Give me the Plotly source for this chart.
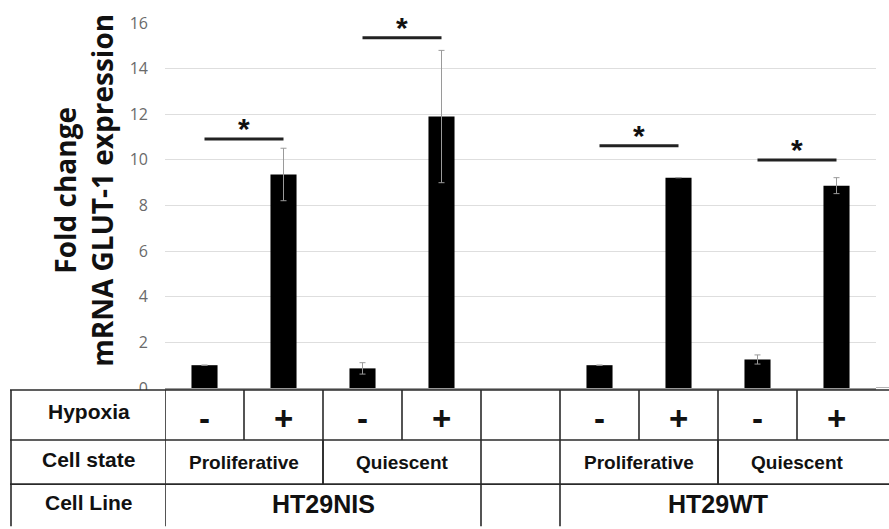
import plotly.graph_objects as go

# ---- data ----
categories = ["NIS-P-", "NIS-P+", "NIS-Q-", "NIS-Q+", "gap", "WT-P-", "WT-P+", "WT-Q-", "WT-Q+"]
values = [1.0, 9.36, 0.86, 11.9, None, 1.0, 9.22, 1.25, 8.87]
errors = [0.0, 1.15, 0.25, 2.9, None, 0.0, 0.0, 0.2, 0.35]
hypoxia = ["-", "+", "-", "+", "", "-", "+", "-", "+"]
cell_state = [("Proliferative", 0, 1), ("Quiescent", 2, 3), ("Proliferative", 5, 6), ("Quiescent", 7, 8)]
cell_line = [("HT29NIS", 0, 3), ("HT29WT", 5, 8)]
sig_pairs = [(0, 1), (2, 3), (5, 6), (7, 8)]
sig_y = [10.92, 15.35, 10.62, 10.0]
row_labels = ["Hypoxia", "Cell state", "Cell Line"]
yticks = [0, 2, 4, 6, 8, 10, 12, 14, 16]

W, H = 889, 529
L, R, T, B = 165, 13, 16, 141
pw, ph = W - L - R, H - T - B

def px_x(p):  # pixel -> paper x
    return (p - L) / pw

def px_y(p):  # pixel -> paper y
    return (H - B - p) / ph

xs = list(range(len(categories)))
last = len(categories) - 1

fig = go.Figure()
fig.add_trace(go.Bar(
    x=xs, y=values, width=0.33,
    marker=dict(color="black", line=dict(width=0)),
    error_y=dict(type="data", array=errors, visible=True, color="#9a9a9a", thickness=1, width=3),
    showlegend=False,
))

shapes = []
annotations = []

# significance bars and stars
for (a, b), yv in zip(sig_pairs, sig_y):
    shapes.append(dict(type="line", xref="x", yref="y", x0=a, x1=b, y0=yv, y1=yv,
                       line=dict(color="#222", width=3)))
    annotations.append(dict(x=(a + b) / 2, y=yv, xref="x", yref="y", text="<b>*</b>",
                            showarrow=False, xanchor="center", yanchor="bottom", yshift=-8,
                            font=dict(family="Liberation Sans", size=30, color="#111")))

# x-axis line extension to the right edge
shapes.append(dict(type="line", xref="paper", yref="y", x0=1, x1=px_x(889), y0=0, y1=0,
                   line=dict(color="#9a9a9a", width=1.5)))

# table geometry (pixels)
t_top, r1, r2, t_bot = 390, 441, 486, 529
left_px, right_px = 10, 889
xl, xr = px_x(left_px), px_x(right_px)

shapes.append(dict(type="rect", xref="paper", yref="paper", x0=xl, x1=xr,
                   y0=px_y(t_bot), y1=px_y(t_top), fillcolor="white", line=dict(width=0), layer="above"))

lc = dict(color="#2a2a2a", width=1.6)
for yy in [t_top, r1, r2]:
    shapes.append(dict(type="line", xref="paper", yref="paper", x0=xl, x1=xr,
                       y0=px_y(yy), y1=px_y(yy), line=lc, layer="above"))
shapes.append(dict(type="line", xref="paper", yref="paper", x0=px_x(left_px + 1), x1=px_x(left_px + 1),
                   y0=px_y(t_top), y1=px_y(t_bot), line=lc, layer="above"))

def vline(xi, ya, yb):
    if xi > last:
        return
    shapes.append(dict(type="line", xref="x", yref="paper", x0=xi, x1=xi,
                       y0=px_y(ya), y1=px_y(yb), line=lc, layer="above"))

for i in range(len(categories)):
    vline(i - 0.5, t_top, r1)
for (_, a, b) in cell_state:
    vline(a - 0.5, r1, r2)
    vline(b + 0.5, r1, r2)
for (_, a, b) in cell_line:
    vline(a - 0.5, r2, t_bot)
    vline(b + 0.5, r2, t_bot)

fontT = "Liberation Sans"

def txt(x, xref, ypx, text, size):
    annotations.append(dict(x=x, y=px_y(ypx), xref=xref, yref="paper", text=f"<b>{text}</b>",
                            showarrow=False, xanchor="center", yanchor="middle",
                            font=dict(family=fontT, size=size, color="#111")))

for lab, ypx in zip(row_labels, [412, 461, 505]):
    txt(px_x((left_px + L) / 2 + 1), "paper", ypx, lab, 21)
for i, s in enumerate(hypoxia):
    if s:
        txt(i, "x", 419, s, 33)
for lab, a, b in cell_state:
    txt((a + b) / 2, "x", 464, lab, 19)
for lab, a, b in cell_line:
    txt((a + b) / 2, "x", 506, lab, 25)

# y title
annotations.append(dict(x=px_x(83), y=px_y(187), xref="paper", yref="paper",
                        text="<b>Fold change<br>mRNA GLUT-1 expression</b>", textangle=-90,
                        showarrow=False, xanchor="center", yanchor="middle",
                        font=dict(family="Open Sans", size=28, color="#111")))

fig.update_layout(
    width=W, height=H,
    margin=dict(l=L, r=R, t=T, b=B),
    plot_bgcolor="white", paper_bgcolor="white",
    shapes=shapes, annotations=annotations,
    xaxis=dict(range=[-0.5, len(categories) - 0.5], tickmode="array",
               tickvals=[i - 0.5 for i in range(len(categories))], showticklabels=False,
               ticks="outside", ticklen=5, tickcolor="#9a9a9a", showline=True,
               linecolor="#9a9a9a", linewidth=1.5, showgrid=False, zeroline=False),
    yaxis=dict(range=[0, 16], tickvals=yticks, showgrid=True, gridcolor="#dedede", gridwidth=1,
               zeroline=False, showline=False, ticks="", ticklabelstandoff=16,
               tickfont=dict(family="Open Sans", size=16, color="#6a6a6a")),
)

fig.write_html("out.html", config={"displayModeBar": False},
               post_script="document.body.style.margin='0';")
